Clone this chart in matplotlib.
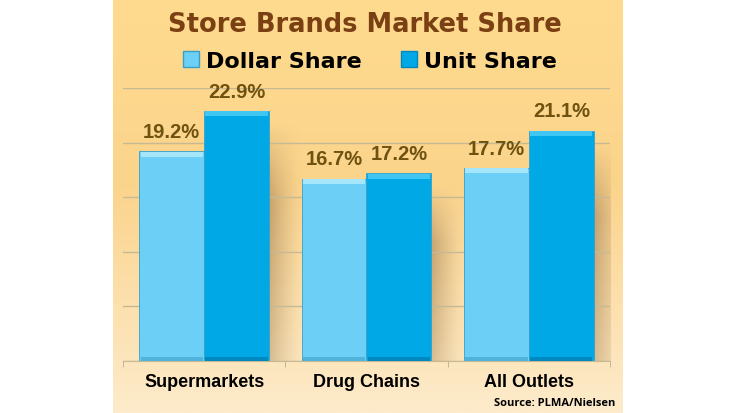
import numpy as np
import matplotlib
matplotlib.use("Agg")
import matplotlib.pyplot as plt
from matplotlib.colors import LinearSegmentedColormap, to_rgb
from matplotlib.patches import Patch

# data
categories = ["Supermarkets", "Drug Chains", "All Outlets"]
dollar_share = [19.2, 16.7, 17.7]
unit_share = [22.9, 17.2, 21.1]
series_names = ["Dollar Share", "Unit Share"]

light_blue = "#6bcff6"
dark_blue = "#00a9e6"
label_col = "#6f5210"
title_col = "#7a3f12"

fig = plt.figure(figsize=(7.36, 4.14), dpi=100)
fig.patch.set_facecolor("white")

# panel background gradient
bg = fig.add_axes([113 / 736, 0, 510 / 736, 1])
bg_cmap = LinearSegmentedColormap.from_list(
    "bg", [(0, "#fedb8e"), (0.45, "#fbd48c"), (1, "#fdebcb")])
bg.imshow(np.linspace(0, 1, 256).reshape(-1, 1), cmap=bg_cmap, aspect="auto",
          extent=[0, 1, 0, 1], origin="upper")
bg.set_axis_off()

ax = fig.add_axes([123 / 736, 1 - 362 / 414, 487 / 736, 273 / 414])
ax.patch.set_alpha(0)

x = np.arange(len(categories))
w = 0.4

# soft shadow to the right of each group
shadow_rgb = to_rgb("#a8865a")
for i in range(len(categories)):
    top = max(dollar_share[i], unit_share[i]) - 1.0
    grad = np.zeros((60, 100, 4))
    grad[..., :3] = shadow_rgb
    fade = np.linspace(0.8, 0.0, 100) ** 1.3
    vert = np.clip(np.linspace(0, 3.0, 60), 0, 1).reshape(-1, 1)
    vert = vert * np.linspace(1.0, 0.6, 60).reshape(-1, 1)
    grad[..., 3] = fade * vert
    x0 = x[i] + w
    ax.imshow(grad, extent=[x0, x0 + 0.2, 0, top], aspect="auto",
              origin="upper", zorder=0.5, interpolation="bilinear")

ax.set_xlim(-0.5, 2.5)
ax.set_ylim(0, 25)

for vals, pos, col, top_col, bot_col in [
        (dollar_share, x - w / 2, light_blue, "#a6e6fb", "#4fb3db"),
        (unit_share, x + w / 2, dark_blue, "#3fc6f2", "#0089c0")]:
    ax.bar(pos, vals, w, color=col, edgecolor="#3a9fc8", linewidth=0.6, zorder=2)
    ax.bar(pos, [0.45] * len(vals), w * 0.96, bottom=np.array(vals) - 0.5,
           color=top_col, linewidth=0, zorder=3)
    ax.bar(pos, [0.35] * len(vals), w * 0.96, bottom=0.02,
           color=bot_col, linewidth=0, zorder=3)
    for p, v in zip(pos, vals):
        ax.text(p, v + 1.8, f"{v}%", ha="center", va="center",
                fontsize=14.5, fontweight="bold", color=label_col,
                family="Liberation Sans", zorder=4)

ax.set_yticks(np.arange(0, 26, 5))
ax.set_yticklabels([])
ax.tick_params(axis="y", length=0)
ax.grid(axis="y", color="#c6b994", linewidth=1, zorder=1)
ax.set_axisbelow(True)

ax.set_xticks(x)
ax.set_xticklabels(categories, fontsize=13, fontweight="bold",
                   family="Liberation Sans")
ax.tick_params(axis="x", length=0, pad=9)
ax.set_xticks([-0.5, 0.5, 1.5, 2.5], minor=True)
ax.tick_params(axis="x", which="minor", length=4, color="#b9ae95")

for s in ["top", "left", "right"]:
    ax.spines[s].set_visible(False)
ax.spines["bottom"].set_color("#c6b994")

fig.text(365 / 736, 1 - 25 / 414, "Store Brands Market Share", ha="center",
         va="center", fontsize=18.5, fontweight="bold", color=title_col,
         family="DejaVu Sans")

handles = [Patch(facecolor=light_blue, edgecolor="#3a9fc8"),
           Patch(facecolor=dark_blue, edgecolor="#0089c0")]
fig.legend(handles, series_names, loc="center", ncol=2,
           bbox_to_anchor=(370 / 736, 1 - 62 / 414), frameon=False,
           prop={"family": "DejaVu Sans", "weight": "bold", "size": 16},
           handlelength=0.7, handleheight=0.7, handletextpad=0.3,
           columnspacing=1.8)

fig.text(615 / 736, 1 - 404 / 414, "Source: PLMA/Nielsen", ha="right",
         va="center", fontsize=8, fontweight="bold", family="Open Sans")

fig.savefig("out.png", dpi=100)
